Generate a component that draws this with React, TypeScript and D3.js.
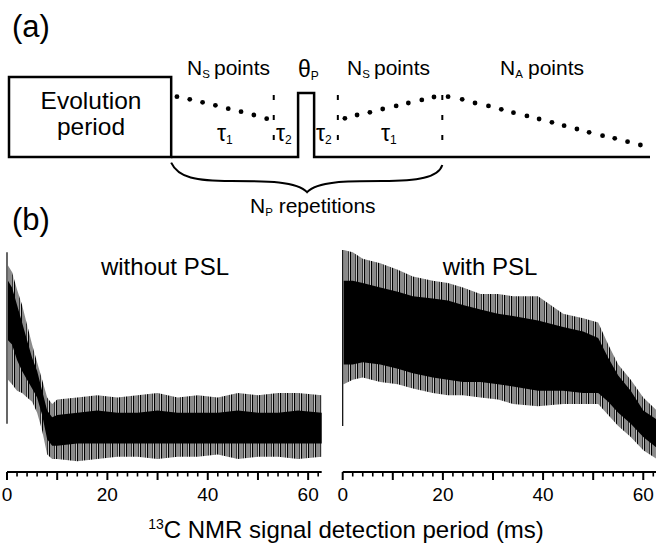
import React from "react";
import * as d3 from "d3";

const FONT = "'Liberation Sans', Arial, Helvetica, sans-serif";

// ---- (b) FID traces, envelopes ----
// time in ms, intensity normalised to the first point
const withoutTime = [0.2, 1, 2, 3, 4, 5, 6, 7, 8, 9, 10, 14, 18, 22, 26, 30, 34, 38, 42, 46, 50, 54, 58, 62.7];
const withoutSpikeTop = [0.93, 0.9, 0.82, 0.75, 0.66, 0.57, 0.49, 0.41, 0.33, 0.3, 0.32, 0.33, 0.34, 0.33, 0.34, 0.35, 0.33, 0.34, 0.33, 0.35, 0.34, 0.35, 0.35, 0.34];
const withoutCoreTop = [0.86, 0.83, 0.75, 0.67, 0.59, 0.51, 0.45, 0.36, 0.27, 0.24, 0.25, 0.26, 0.27, 0.26, 0.26, 0.27, 0.26, 0.26, 0.26, 0.27, 0.26, 0.26, 0.27, 0.26];
const withoutCoreBottom = [0.59, 0.57, 0.5, 0.45, 0.41, 0.37, 0.33, 0.25, 0.14, 0.11, 0.11, 0.12, 0.12, 0.12, 0.12, 0.12, 0.12, 0.12, 0.12, 0.12, 0.12, 0.12, 0.12, 0.12];
const withoutSpikeBottom = [0.41, 0.39, 0.36, 0.35, 0.33, 0.31, 0.26, 0.18, 0.07, 0.05, 0.05, 0.04, 0.05, 0.06, 0.06, 0.05, 0.06, 0.06, 0.07, 0.05, 0.06, 0.06, 0.05, 0.06];
const withoutFirstPoint = [0.21, 0.99];

const withTime = [0.2, 2, 4, 7.5, 11, 14, 18, 21, 24, 27.5, 31, 34, 39, 44, 48, 51, 53, 55, 57.5, 60, 62.7];
const withSpikeTop = [1.0, 0.99, 0.96, 0.94, 0.91, 0.88, 0.86, 0.85, 0.83, 0.8, 0.8, 0.79, 0.79, 0.71, 0.69, 0.67, 0.57, 0.48, 0.41, 0.33, 0.27];
const withCoreTop = [0.86, 0.86, 0.85, 0.83, 0.81, 0.79, 0.78, 0.77, 0.75, 0.73, 0.71, 0.7, 0.68, 0.65, 0.63, 0.6, 0.51, 0.43, 0.36, 0.27, 0.23];
const withCoreBottom = [0.48, 0.48, 0.49, 0.48, 0.46, 0.44, 0.42, 0.41, 0.4, 0.4, 0.39, 0.38, 0.36, 0.36, 0.35, 0.35, 0.31, 0.26, 0.21, 0.15, 0.1];
const withSpikeBottom = [0.39, 0.41, 0.42, 0.4, 0.39, 0.37, 0.35, 0.34, 0.34, 0.33, 0.32, 0.3, 0.29, 0.3, 0.3, 0.3, 0.25, 0.2, 0.15, 0.09, 0.05];
const withFirstPoint = [0.2, 1.0];

const majorTicks = [0, 10, 20, 30, 40, 50, 60];
const tickLabels = [0, 20, 40, 60];
const minorTicks = [2, 4, 6, 8, 12, 14, 16, 18, 22, 24, 26, 28, 32, 34, 36, 38, 42, 44, 46, 48, 52, 54, 56, 58, 62];

// ---- (a) pulse sequence, in sequence units (0-100) and amplitude ----
const evolutionSpan = [0, 25.3];
const pulseSpan = [45.1, 47.6];
const pulseAmp = 0.8;
const dashAt = [41.3, 51.3, 67.6];
const nsDecayT = [26.2, 28.2, 30.2, 32.2, 34.2, 36.2, 38.2, 40.2];
const nsDecayAmp = [0.754, 0.721, 0.684, 0.646, 0.604, 0.566, 0.525, 0.479];
const nsRiseT = [52.4, 54.3, 56.3, 58.3, 60.4, 62.3, 64.4, 66.3];
const nsRiseAmp = [0.484, 0.525, 0.559, 0.6, 0.638, 0.675, 0.713, 0.75];
const naT = [68.5, 70.7, 72.7, 74.8, 76.8, 78.7, 80.8, 82.7, 84.7, 86.6, 88.6, 90.5, 92.6, 94.5, 96.5, 98.5];
const naAmp = [0.754, 0.721, 0.675, 0.638, 0.596, 0.554, 0.513, 0.475, 0.434, 0.391, 0.35, 0.309, 0.266, 0.234, 0.191, 0.15];

const seqX = d3.scaleLinear().domain([0, 100]).range([9, 650]);
const seqY = d3.scaleLinear().domain([0, 1]).range([157, 77]);

function Trace({ x, time, spikeTop, coreTop, coreBottom, spikeBottom, first }) {
  const y = d3.scaleLinear().domain([0, 1]).range([470, 250]);
  const idx = d3.range(time.length);
  const outer = d3
    .area<number>()
    .x((i) => x(time[i]))
    .y0((i) => y(spikeBottom[i]))
    .y1((i) => y(spikeTop[i]));
  const core = d3
    .area<number>()
    .x((i) => x(time[i]))
    .y0((i) => y(coreBottom[i]))
    .y1((i) => y(coreTop[i]));
  const axisY = 472;
  return (
    <g>
      <path d={outer(idx) || ""} fill="url(#hatch)" />
      <path d={core(idx) || ""} fill="#000" />
      <line x1={x(0)} x2={x(0)} y1={y(first[0])} y2={y(first[1])} stroke="#000" strokeWidth={1.2} />
      <line x1={x.range()[0]} x2={x.range()[1]} y1={axisY} y2={axisY} stroke="#000" strokeWidth={2} />
      {majorTicks.map((t) => (
        <line key={"M" + t} x1={x(t)} x2={x(t)} y1={axisY} y2={axisY + 8} stroke="#000" strokeWidth={2} />
      ))}
      {minorTicks.map((t) => (
        <line key={"m" + t} x1={x(t)} x2={x(t)} y1={axisY} y2={axisY + 4.5} stroke="#000" strokeWidth={1.6} />
      ))}
      {tickLabels.map((t) => (
        <text key={"l" + t} x={x(t)} y={501} textAnchor="middle" fontSize={19}>
          {t}
        </text>
      ))}
    </g>
  );
}

function Dots({ t, amp }) {
  return (
    <g>
      {t.map((v, i) => (
        <circle key={i} cx={seqX(v)} cy={seqY(amp[i])} r={2.4} fill="#000" />
      ))}
    </g>
  );
}

function Sub({ main, sub, x, y, size, subSize, anchor = "middle" }) {
  return (
    <text x={x} y={y} fontSize={size} textAnchor={anchor}>
      {main}
      <tspan fontSize={subSize} dy={3}>
        {sub}
      </tspan>
    </text>
  );
}

export default function App() {
  const xLeft = d3.scaleLinear().domain([0, 62.7]).range([7, 321.7]);
  const xRight = d3.scaleLinear().domain([0, 62.7]).range([342.7, 656.8]);

  const base = seqY(0);
  const seqLine = [
    [seqX(evolutionSpan[1]), base],
    [seqX(pulseSpan[0]), base],
    [seqX(pulseSpan[0]), seqY(pulseAmp)],
    [seqX(pulseSpan[1]), seqY(pulseAmp)],
    [seqX(pulseSpan[1]), base],
    [seqX(100), base],
  ];

  // curly brace under the repetition block
  const bL = seqX(evolutionSpan[1]);
  const bR = seqX(dashAt[2]);
  const bM = seqX(46.5);
  const brace = d3.path();
  brace.moveTo(bL, seqY(-0.07));
  brace.bezierCurveTo(bL + 7, seqY(-0.26), bL + 25, seqY(-0.3), bL + 60, seqY(-0.3));
  brace.bezierCurveTo(bM - 40, seqY(-0.3), bM - 10, seqY(-0.3), bM, seqY(-0.44));
  brace.bezierCurveTo(bM + 10, seqY(-0.3), bM + 40, seqY(-0.3), bR - 60, seqY(-0.3));
  brace.bezierCurveTo(bR - 25, seqY(-0.3), bR - 4, seqY(-0.26), bR, seqY(-0.1));

  return (
    <svg width={656} height={545} style={{ position: "absolute", left: 0, top: 0, background: "#fff" }} fontFamily={FONT}>
      <defs>
        <pattern id="hatch" width={7} height={6} patternUnits="userSpaceOnUse">
          <rect width={7} height={6} fill="#c4c4c4" />
          <rect x={0} width={1.3} height={6} fill="#000" />
          <rect x={2.6} width={0.8} height={6} fill="#333" />
          <rect x={4.7} width={1.1} height={6} fill="#111" />
        </pattern>
      </defs>

      {/* (a) pulse sequence */}
      <text x={12} y={37} fontSize={31}>(a)</text>
      <rect
        x={seqX(evolutionSpan[0])}
        y={seqY(1)}
        width={seqX(evolutionSpan[1]) - seqX(evolutionSpan[0])}
        height={seqY(0) - seqY(1)}
        fill="none"
        stroke="#000"
        strokeWidth={2.5}
      />
      <text x={91} y={109} fontSize={24.5} textAnchor="middle">Evolution</text>
      <text x={91} y={135} fontSize={24.5} textAnchor="middle">period</text>
      <path d={d3.line()(seqLine as [number, number][]) || ""} fill="none" stroke="#000" strokeWidth={2.5} />
      {dashAt.map((t) => (
        <line key={t} x1={seqX(t)} x2={seqX(t)} y1={95} y2={141} stroke="#000" strokeWidth={2} strokeDasharray="5 15" />
      ))}
      <Dots t={nsDecayT} amp={nsDecayAmp} />
      <Dots t={nsRiseT} amp={nsRiseAmp} />
      <Dots t={naT} amp={naAmp} />

      <Sub main="N" sub="S" x={187} y={75} size={21} subSize={11.5} anchor="start" />
      <text x={214} y={75} fontSize={21}>points</text>
      <Sub main="θ" sub="P" x={298} y={77} size={23} subSize={12} anchor="start" />
      <Sub main="N" sub="S" x={347} y={75} size={21} subSize={11.5} anchor="start" />
      <text x={374} y={75} fontSize={21}>points</text>
      <Sub main="N" sub="A" x={500} y={75} size={21} subSize={11.5} anchor="start" />
      <text x={528} y={75} fontSize={21}>points</text>

      <Sub main="τ" sub="1" x={217} y={141} size={23} subSize={12} anchor="start" />
      <Sub main="τ" sub="2" x={276} y={141} size={23} subSize={12} anchor="start" />
      <Sub main="τ" sub="2" x={316} y={141} size={23} subSize={12} anchor="start" />
      <Sub main="τ" sub="1" x={381} y={141} size={23} subSize={12} anchor="start" />

      <path d={brace.toString()} fill="none" stroke="#000" strokeWidth={2} />
      <text x={250} y={213} fontSize={21}>
        N<tspan fontSize={11.5} dy={3}>P</tspan>
        <tspan dy={-3}> repetitions</tspan>
      </text>

      {/* (b) detected signals */}
      <text x={12} y={230} fontSize={31}>(b)</text>
      <text x={165} y={275} fontSize={24} textAnchor="middle">without PSL</text>
      <text x={490} y={275} fontSize={24} textAnchor="middle">with PSL</text>

      <Trace
        x={xLeft}
        time={withoutTime}
        spikeTop={withoutSpikeTop}
        coreTop={withoutCoreTop}
        coreBottom={withoutCoreBottom}
        spikeBottom={withoutSpikeBottom}
        first={withoutFirstPoint}
      />
      <Trace
        x={xRight}
        time={withTime}
        spikeTop={withSpikeTop}
        coreTop={withCoreTop}
        coreBottom={withCoreBottom}
        spikeBottom={withSpikeBottom}
        first={withFirstPoint}
      />

      <text x={346} y={538} fontSize={24} textAnchor="middle">
        <tspan fontSize={14} dy={-9}>13</tspan>
        <tspan dy={9}>C NMR signal detection period (ms)</tspan>
      </text>
    </svg>
  );
}
